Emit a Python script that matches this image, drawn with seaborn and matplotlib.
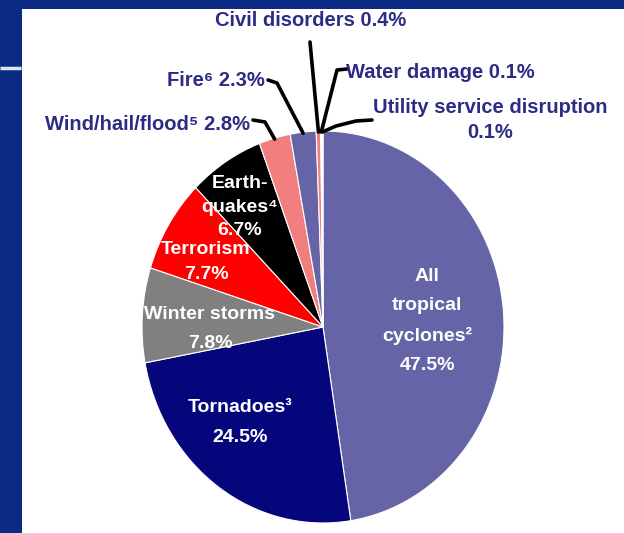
import numpy as np
import matplotlib
matplotlib.use("Agg")
import matplotlib.pyplot as plt
from matplotlib.patches import Rectangle
import seaborn as sns

# ---------------- data ----------------
categories = ["All tropical cyclones", "Tornadoes", "Winter storms", "Terrorism",
              "Earthquakes", "Wind/hail/flood", "Fire", "Civil disorders",
              "Water damage", "Utility service disruption"]
shares = [47.5, 24.5, 7.8, 7.7, 6.7, 2.8, 2.3, 0.4, 0.1, 0.1]
inner_labels = ["All\ntropical\ncyclones²\n47.5%", "Tornadoes³\n24.5%",
                "Winter storms\n7.8%", "Terrorism\n7.7%", "Earth-\nquakes⁴\n6.7%"]
outer_labels = ["Wind/hail/flood⁵ 2.8%", "Fire⁶ 2.3%", "Civil disorders 0.4%",
                "Water damage 0.1%", "Utility service disruption\n0.1%"]

# ---------------- style ----------------
sns.set_theme(style="white")
FONT = ["Liberation Sans", "DejaVu Sans"]
plt.rcParams["font.family"] = FONT

slice_colors = ["#6464a6", "#06067c", "#808080", "#ff0000", "#000000",
                "#f27f7f", "#6464a6", "#f27f7f", "#ffffff", "#e8e8f4"]
NAVY_BG = "#0b2a84"
TEXT_BLUE = "#2c2c84"

W, H = 624, 533
fig = plt.figure(figsize=(W / 100, H / 100), dpi=100)
fig.patch.set_facecolor(NAVY_BG)

# background panel
bg = fig.add_axes([0, 0, 1, 1], zorder=0)
bg.set_xlim(0, W); bg.set_ylim(H, 0); bg.axis("off")
bg.add_patch(Rectangle((22, 9), W - 22, H - 9, facecolor="white", edgecolor="none"))
bg.plot([0, 21], [68, 68], color="#dfe6f0", lw=2.5, solid_capstyle="butt")

# pie (slightly elliptical as in the reference)
cx, cy, rx, ry = 323, 327, 181, 196
pax = fig.add_axes([(cx - rx) / W, 1 - (cy + ry) / H, 2 * rx / W, 2 * ry / H], zorder=1)
wedges, _ = pax.pie(shares, colors=slice_colors, startangle=90, counterclock=False,
                    radius=1, wedgeprops=dict(edgecolor="white", linewidth=0.8))
pax.set_aspect("auto")
pax.set_xlim(-1, 1); pax.set_ylim(-1, 1)
pax.axis("off")

# overlay for labels and leader lines (pixel coordinates, origin top-left)
ov = fig.add_axes([0, 0, 1, 1], zorder=2)
ov.set_xlim(0, W); ov.set_ylim(H, 0); ov.axis("off")
ov.patch.set_alpha(0)

# inner labels: position and line spacing
inner_layout = [((427, 321), 1.9), ((240, 423), 2.0), ((210, 329), 1.9),
                ((206, 262), 1.55), ((240, 207), 1.5)]
for txt, ((x, y), ls) in zip(inner_labels, inner_layout):
    ov.text(x, y, txt, ha="center", va="center", color="white", fontsize=14,
            fontweight="bold", linespacing=ls, family=FONT)

# wedge edge anchor for a slice (mid angle, on the ellipse)
def anchor(i):
    t = (wedges[i].theta1 + wedges[i].theta2) / 2
    return cx + rx * np.cos(np.radians(t)), cy - ry * np.sin(np.radians(t))

# outer labels: (text pos, alignment, bend points before anchor)
outer_layout = [
    dict(i=5, xy=(250, 124), ha="right", path=[(253, 120), (265, 122)]),
    dict(i=6, xy=(265, 80), ha="right", path=[(268, 80), (277, 83)]),
    dict(i=7, xy=(311, 21), ha="center", path=[(310, 42)]),
    dict(i=8, xy=(346, 72), ha="left", path=[(347, 69), (337, 70)]),
    dict(i=9, xy=(490, 120), ha="center", path=[(372, 120), (356, 121), (336, 126)]),
]
for txt, lay in zip(outer_labels, outer_layout):
    x, y = lay["xy"]
    ov.text(x, y, txt, ha=lay["ha"], va="center", color=TEXT_BLUE, fontsize=14.5,
            fontweight="bold", linespacing=1.35, family=FONT, multialignment="center")
    ax_, ay_ = anchor(lay["i"])
    pts = lay["path"] + [(ax_, ay_ + 1)]
    ov.plot([p[0] for p in pts], [p[1] for p in pts], color="black", lw=2.6,
            solid_joinstyle="round", solid_capstyle="round")

fig.savefig("out.png", dpi=100, facecolor=fig.get_facecolor())
